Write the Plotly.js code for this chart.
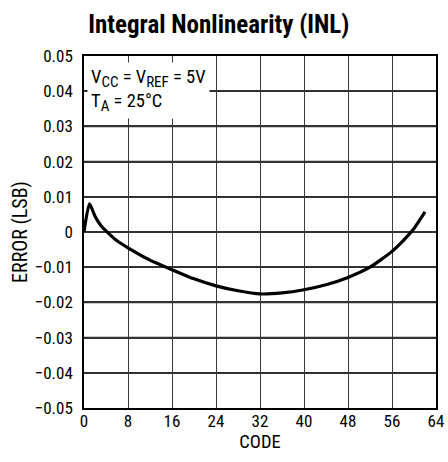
<!DOCTYPE html>
<html>
<head>
<meta charset="utf-8">
<script src="https://cdn.plot.ly/plotly-3.0.1.min.js"></script>
<style>html,body{margin:0;padding:0;background:#fff;}#chart{width:448px;height:462px;}</style>
</head>
<body>
<div id="chart"></div>
<script>
const codes = [0, 1, 2, 3, 4, 6, 8, 12, 16, 20, 24, 28, 32, 36, 40, 44, 48, 52, 56, 58, 60, 62];
const inlError = [0, 0.008, 0.0045, 0.002, 0.0003, -0.0025, -0.0045, -0.008, -0.0107, -0.0133, -0.0153, -0.0167, -0.0176, -0.0173, -0.0164, -0.015, -0.0129, -0.01, -0.0055, -0.0025, 0.001, 0.0057];
const xTickVals = [0, 8, 16, 24, 32, 40, 48, 56, 64];
const xTickText = ['0', '8', '16', '24', '32', '40', '48', '56', '64'];
const yTickVals = [0.05, 0.04, 0.03, 0.02, 0.01, 0, -0.01, -0.02, -0.03, -0.04, -0.05];
const yTickText = ['0.05', '0.04', '0.03', '0.02', '0.01', '0', '\u22120.01', '\u22120.02', '\u22120.03', '\u22120.04', '\u22120.05'];

const FONT = '"Liberation Sans Narrow", "Arial Narrow", "Roboto Condensed", "Liberation Sans", sans-serif';
const GRID = '#3c3c3c';

const trace = {
  x: codes, y: inlError, type: 'scatter', mode: 'lines',
  line: {color: '#000', width: 3.2, shape: 'spline', smoothing: 0.6},
  hoverinfo: 'skip'
};

const xMin = xTickVals[0], xMax = xTickVals[xTickVals.length - 1];
const yMin = yTickVals[yTickVals.length - 1], yMax = yTickVals[0];
let hPath = '';
yTickVals.slice(1, -1).forEach(v => { hPath += 'M' + xMin + ',' + v + ' L' + xMax + ',' + v + ' '; });

const layout = {
  width: 448, height: 462,
  margin: {l: 84, r: 12, t: 56, b: 54},
  paper_bgcolor: '#ffffff', plot_bgcolor: 'rgba(255,255,255,0)',
  font: {family: FONT, color: '#000', size: 17},
  showlegend: false,
  title: {
    text: '<b>Integral Nonlinearity (INL)</b>',
    font: {family: FONT, size: 25, color: '#000'},
    x: 0.383, xanchor: 'center', xref: 'paper', y: 0.948, yanchor: 'middle'
  },
  xaxis: {
    range: [xMin, xMax], tickmode: 'array', tickvals: xTickVals, ticktext: xTickText,
    showgrid: true, gridcolor: GRID, gridwidth: 1.2,
    zeroline: false, showline: true, linecolor: '#000', linewidth: 1.5, mirror: true,
    ticks: '', ticklabelstandoff: -3,
    tickfont: {family: FONT, size: 17},
    title: {text: 'CODE', font: {family: FONT, size: 18.5}, standoff: 2}
  },
  yaxis: {
    range: [yMin, yMax], tickmode: 'array', tickvals: yTickVals, ticktext: yTickText,
    showgrid: true, gridcolor: '#333333', gridwidth: 1.6,
    zeroline: false, showline: true, linecolor: '#000', linewidth: 1.5, mirror: true,
    ticks: '', ticklabelstandoff: 6,
    tickfont: {family: FONT, size: 17},
    title: {text: 'ERROR (LSB)', font: {family: FONT, size: 20}, standoff: 2}
  },
  shapes: [{
    type: 'path', xref: 'x', yref: 'y', path: hPath,
    line: {color: '#333333', width: 1.6}, layer: 'between'
  }],
  annotations: [{
    xref: 'paper', yref: 'paper', x: 0.008, y: 0.982, xanchor: 'left', yanchor: 'top',
    align: 'left', showarrow: false, bgcolor: '#ffffff', borderpad: 3,
    text: 'V<sub><span style="font-size:15px">CC</span></sub> = V<sub><span style="font-size:15px">REF</span></sub> = 5V<br>T<sub><span style="font-size:15px">A</span></sub> = 25°C',
    font: {family: FONT, size: 18.5, color: '#000'}
  }]
};

Plotly.newPlot('chart', [trace], layout, {displayModeBar: false});
</script>
</body>
</html>
